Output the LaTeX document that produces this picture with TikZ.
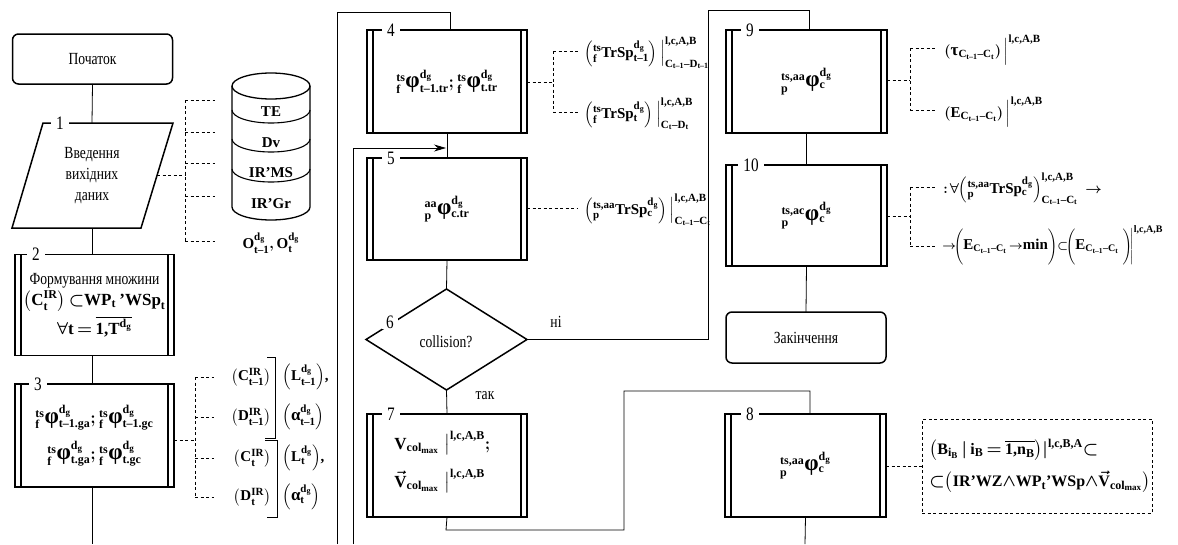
\documentclass[tikz,border=0pt]{standalone}
\usepackage{amsmath}
\usepackage{fontspec}
\setmainfont{Liberation Serif}
\newfontfamily\cond[FakeStretch=0.8]{Liberation Serif}
\usetikzlibrary{shapes.geometric,arrows.meta,calc}
\DeclareMathSizes{16}{16}{12}{9}
\DeclareMathSizes{15}{15}{11}{8}
\DeclareMathSizes{13}{13}{10}{7.5}
\DeclareMathSizes{17}{17}{12}{9}
\newcommand\mb[1]{\text{\normalfont\bfseries #1}}
\newcommand\ph{\text{\normalfont\fontsize{23}{23}\selectfont\bfseries φ}}
\newcommand\alb{\text{\normalfont\fontsize{17}{17}\selectfont\bfseries α}}
\newcommand\taub{\text{\normalfont\fontsize{17}{17}\selectfont\bfseries τ}}
\newcommand\dg{\mb{d}_{\mb{g}}}
\newcommand\ap{\text{\normalfont\bfseries\char"27}}
\newcommand\ct{\mb{C}_{\mb{t–1}}\mb{–}\mb{C}_{\mb{t}}}
\begin{document}
\begin{tikzpicture}[x=1pt,y=1pt,line width=0.8pt,
 term/.style={draw,line width=1.5pt,rounded corners=6pt,minimum width=160pt,minimum height=50pt,inner sep=0pt,outer sep=0pt,font=\cond\fontsize{17}{20}\selectfont},
 pbox/.style={draw,line width=1.8pt,minimum width=160pt,minimum height=102pt,inner sep=0pt,outer sep=0pt,align=center,font=\fontsize{16}{20}\selectfont\bfseries\boldmath},
 numlab/.style={fill=white,inner xsep=5pt,inner ysep=1pt,font=\cond\fontsize{19}{20}\selectfont},
 plain/.style={inner sep=0pt,font=\cond\fontsize{17}{20}\selectfont},
 conn/.style={line width=0.8pt},
 dconn/.style={line width=0.8pt,dash pattern=on 3pt off 2.5pt},
 fml/.style={inner sep=0pt,font=\fontsize{15}{18}\selectfont\bfseries\boldmath},
 dbtxt/.style={font=\fontsize{15}{18}\selectfont\bfseries},
]
\useasboundingbox (0,0) rectangle (1178,-544);
% ---------- column 1 ----------
\node[term] (start) at (92.5,-59) {Початок};
\coordinate (p1n) at (92,-123);
\coordinate (p1s) at (92,-228);
\coordinate (p1e) at (157,-175);
\draw[line width=1.5pt] (43,-123) -- (173,-123) -- (141,-228) -- (12,-228) -- cycle;
\node[plain,align=center,font=\cond\fontsize{17}{21}\selectfont] (p1) at (92,-176) {Введення\\вихідних\\даних};
\node[numlab] at (60,-123) {1};

\node[pbox,font=\fontsize{17}{20}\selectfont\bfseries\boldmath] (b2) at (94.5,-305) [minimum width=159pt,minimum height=101pt] {{\cond\mdseries\fontsize{17}{20}\selectfont Формування множини}\\[1pt]
$\left(\mb{C}^{\mb{IR}}_{\mb{t}}\right){\subset}\mb{WP}_{\mb{t}}\,\ap\mb{WSp}_{\mb{t}}$\\[4pt]
$\forall\mb{t}\,{=}\,\overline{\mb{1,T}^{\dg}}$};
\node[pbox] (b3) at (94.5,-435.5) [minimum width=159pt,minimum height=103pt] {${}^{\mb{ts}}_{\mb{f}}\ph^{\dg}_{\mb{t–1.ga}};{}^{\mb{ts}}_{\mb{f}}\ph^{\dg}_{\mb{t–1.gc}}$\\[10pt]
${}^{\mb{ts}}_{\mb{f}}\ph^{\dg}_{\mb{t.ga}};{}^{\mb{ts}}_{\mb{f}}\ph^{\dg}_{\mb{t.gc}}$};
\coordinate (e1) at (92,-544);

% cylinder
\draw[line width=1.3pt] (232,-86) -- (232,-207) arc[start angle=180,end angle=360,x radius=39pt,y radius=13pt] -- (310,-86);
\draw[line width=1.3pt] (271,-86) ellipse [x radius=39pt,y radius=13pt];
\foreach \yy in {110,139,169}{\draw[line width=1.1pt] (232,-\yy) arc[start angle=180,end angle=360,x radius=39pt,y radius=13pt];}
\node[dbtxt] (cTE) at (271,-112) {TE};
\node[dbtxt] (cDv) at (271,-143) {Dv};
\node[dbtxt] (cMS) at (271,-173) {IR’MS};
\node[dbtxt] (cGr) at (271,-204) {IR’Gr};
\node[fml] (cO) at (271,-243) {$\mb{O}^{\dg}_{\mb{t–1}},\mb{O}^{\dg}_{\mb{t}}$};

% dashed from parallelogram
\coordinate (v1) at (185,-175);
\draw[dconn] (p1e) -- (v1);
\draw[dconn] (185,-100) -- (185,-241);
\foreach \yy in {100,132,163,196,241}{\draw[dconn] (185,-\yy) -- (215,-\yy);}

% dashed from b3
\draw[dconn] (b3.east |- 0,-440) -- (195,-440);
\draw[dconn] (195,-377) -- (195,-497);
\foreach \yy in {377,417,458,497}{\draw[dconn] (195,-\yy) -- (214,-\yy);}
\node[fml,anchor=east] (c1) at (271,-377) {$\left(\mb{C}^{\mb{IR}}_{\mb{t–1}}\right)$};
\node[fml,anchor=east] (d1) at (271,-417) {$\left(\mb{D}^{\mb{IR}}_{\mb{t–1}}\right)$};
\node[fml,anchor=east] (c2) at (271,-458) {$\left(\mb{C}^{\mb{IR}}_{\mb{t}}\right)$};
\node[fml,anchor=east] (d2) at (271,-497) {$\left(\mb{D}^{\mb{IR}}_{\mb{t}}\right)$};
\node[fml,anchor=west] (l1) at (282,-377) {$\left(\mb{L}^{\dg}_{\mb{t–1}}\right)$,};
\node[fml,anchor=west] (a1) at (282,-417) {$\left(\alb^{\dg}_{\mb{t–1}}\right)$};
\node[fml,anchor=west] (l2) at (282,-458) {$\left(\mb{L}^{\dg}_{\mb{t}}\right)$,};
\node[fml,anchor=west] (a2) at (282,-497) {$\left(\alb^{\dg}_{\mb{t}}\right)$};
\draw[line width=0.9pt] (267,-357) -- (275,-357) -- (275,-438);
\draw[line width=0.9pt] (265,-438) -- (276,-438);
\draw[line width=0.9pt] (265,-440.5) -- (277,-440.5) -- (277,-517) -- (267,-517);

% main line column 1
\draw[conn] (start.south) -- (p1n);
\draw[conn] (p1s) -- (p1s |- b2.north);
\draw[conn] (p1s |- b2.south) -- (p1s |- b3.north);
\draw[conn] (p1s |- b3.south) -- (e1);

% ---------- column 2 ----------
\node[pbox] (b4) at (447,-81.5) [minimum height=103pt] {${}^{\mb{ts}}_{\mb{f}}\ph^{\dg}_{\mb{t–1.tr}};{}^{\mb{ts}}_{\mb{f}}\ph^{\dg}_{\mb{t.tr}}$};
\node[pbox] (b5) at (447,-209) {${}^{\mb{aa}}_{\mb{p}}\ph^{\dg}_{\mb{c.tr}}$};
\node[draw,diamond,line width=1.5pt,minimum width=161pt,minimum height=101pt,inner sep=0pt,outer sep=0pt] (d6) at (446.5,-339.5) {};
\node[plain] (coll) at (446,-342) {collision?};
\node[numlab,inner xsep=4pt] at (390,-322) {6};
\node[pbox] (b7) at (447,-465.5) [minimum height=103pt] {};
\node[fml,font=\fontsize{17}{20}\selectfont\bfseries\boldmath,anchor=west,align=left] (b7txt) at (394,-462) {$\mb{V}_{\mb{col}_{\mb{max}}}\;\big|^{\mb{l,c,A,B}}_{\;};$\\[12pt]
$\vec{\mb{V}}_{\mb{col}_{\mb{max}}}\;\big|^{\mb{l,c,A,B}}$};
\node[plain] (ni) at (556,-322) {ні};
\node[plain] (tak) at (485,-396) {так};

\coordinate (j45) at (446,-148);
\coordinate (e2) at (337,-544);
\coordinate (e3) at (353,-544);
\draw[conn] (b4.south) -- (b5.north);
\draw[conn,-{Stealth[length=12pt,width=7pt]}] (e3) -- (353,-148) -- (j45);
\draw[conn] (e2) -- (337,-12) -- (450,-12) -- ([xshift=3pt]b4.north);
\draw[conn] (b5.south) -- (d6.north);
\draw[conn] (d6.south) -- (b7.north);

% dashed from b4, b5
\draw[dconn] (b4.east |- 0,-82) -- (553,-82);
\draw[dconn] (553,-51) -- (553,-112);
\draw[dconn] (553,-51) -- (578,-51);
\draw[dconn] (553,-112) -- (578,-112);
\node[fml,anchor=west] (f4a) at (584,-53) {$\left({}^{\mb{ts}}_{\mb{f}}\mb{TrSp}^{\dg}_{\mb{t–1}}\right)\Big|^{\mb{l,c,A,B}}_{\mb{C}_{\mb{t–1}}\mb{–}\mb{D}_{\mb{t–1}}}$};
\node[fml,anchor=west] (f4b) at (584,-114) {$\left({}^{\mb{ts}}_{\mb{f}}\mb{TrSp}^{\dg}_{\mb{t}}\right)\Big|^{\mb{l,c,A,B}}_{\mb{C}_{\mb{t}}\mb{–}\mb{D}_{\mb{t}}}$};
\draw[dconn] (b5.east |- 0,-208) -- (578,-208);
\node[fml,anchor=west] (f5) at (584,-210) {$\left({}^{\mb{ts,aa}}_{\mb{p}}\mb{TrSp}^{\dg}_{\mb{c}}\right)\Big|^{\mb{l,c,A,B}}_{\ct}$};

% ---------- column 3 ----------
\node[pbox] (b9) at (806.5,-81.5) [minimum width=161pt,minimum height=103pt] {${}^{\mb{ts,aa}}_{\mb{p}}\ph^{\dg}_{\mb{c}}$};
\node[pbox] (b10) at (806.5,-215.5) [minimum width=161pt,minimum height=101pt] {${}^{\mb{ts,ac}}_{\mb{p}}\ph^{\dg}_{\mb{c}}$};
\node[term,minimum height=51pt] (end) at (806,-337.5) {Закінчення};
\node[pbox] (b8) at (805.5,-465.5) [minimum width=161pt,minimum height=103pt] {${}^{\mb{ts,aa}}_{\mb{p}}\ph^{\dg}_{\mb{c}}$};

\draw[conn] (d6.east) -- (708,-339.5) -- (708,-10) -- (809,-10) -- ([xshift=2.5pt]b9.north);
\draw[conn] (b9.south) -- (b10.north);
\draw[conn] (b10.south) -- (end.north);
\draw[conn] (b7.south) -- (446,-530) -- (624,-530) -- (624,-391) -- (810,-391) -- ([xshift=4.5pt]b8.north);
\coordinate (e4) at (805,-544);
\draw[conn] (b8.south) -- (e4);

% dashed from b9, b10
\draw[dconn] (b9.east |- 0,-80) -- (910,-80);
\draw[dconn] (910,-48) -- (910,-110);
\draw[dconn] (910,-48) -- (935,-48);
\draw[dconn] (910,-110) -- (935,-110);
\node[fml,anchor=west] (f9a) at (944,-50) {$\left(\taub_{\ct}\right)\Big|^{\mb{l,c,A,B}}$};
\node[fml,anchor=west] (f9b) at (944,-112) {$\left(\mb{E}_{\ct}\right)\Big|^{\mb{l,c,A,B}}$};
\draw[dconn] (b10.east |- 0,-216) -- (910,-216);
\draw[dconn] (910,-187) -- (910,-246);
\draw[dconn] (910,-187) -- (935,-187);
\draw[dconn] (910,-246) -- (935,-246);
\node[fml,anchor=west] (f10a) at (943,-189) {$:\!{\forall}\!\left({}^{\mb{ts,aa}}_{\mb{p}}\mb{TrSp}^{\dg}_{\mb{c}}\right)^{\mb{l,c,A,B}}_{\ct}\;{\rightarrow}$};
\node[fml,anchor=west,font=\fontsize{13}{18}\selectfont\bfseries\boldmath] (f10b) at (942,-245) {${\rightarrow}\!\Biggl(\mb{\fontsize{15}{15}\selectfont E}_{\ct}\,{\rightarrow}\mb{\fontsize{15}{15}\selectfont min}\Biggr){\subset}\!\Biggl(\mb{\fontsize{15}{15}\selectfont E}_{\ct}\;\Biggr)\!\Bigg|^{\mb{l,c,A,B}}$};

% dashed box for b8
\node[draw,dash pattern=on 3pt off 2.5pt,line width=0.9pt,minimum width=230pt,minimum height=94pt,inner sep=0pt] (db) at (1037,-466) {};
\node[fml,font=\fontsize{16}{20}\selectfont\bfseries\boldmath,anchor=west,align=left] (dbt) at (929,-466) {$\left(\mb{B}_{\mb{i}_{\mb{B}}}\,|\,\mb{i}_{\mb{B}}\,{=}\,\overline{\mb{1,n}_{\mb{B}}}\right)\!|^{\mb{l,c,B,A}}{\subset}$\\[10pt]
${\subset}\!\left(\mb{IR}\ap\mb{WZ}{\wedge}\mb{WP}_{\mb{t}}\ap\mb{WSp}{\wedge}\vec{\mb{V}}_{\mb{col}_{\mb{max}}}\right)$};
\draw[dconn] (b8.east |- 0,-466) -- (db.west);

% inner double lines and labels of boxes
\foreach \n in {b2,b3,b4,b5,b7,b8,b9,b10}{
 \draw[line width=1.8pt] ([xshift=6pt]\n.north west) -- ([xshift=6pt]\n.south west);
 \draw[line width=1.8pt] ([xshift=-6pt]\n.north east) -- ([xshift=-6pt]\n.south east);
}
\node[numlab] at ([xshift=21pt]b2.north west) {2};
\node[numlab] at ([xshift=23pt]b3.north west) {3};
\node[numlab] at ([xshift=24pt]b4.north west) {4};
\node[numlab] at ([xshift=24pt]b5.north west) {5};
\node[numlab] at ([xshift=24pt]b7.north west) {7};
\node[numlab] at ([xshift=25pt]b8.north west) {8};
\node[numlab] at ([xshift=24pt]b9.north west) {9};
\node[numlab] at ([xshift=25pt]b10.north west) {10};
\end{tikzpicture}
\end{document}
